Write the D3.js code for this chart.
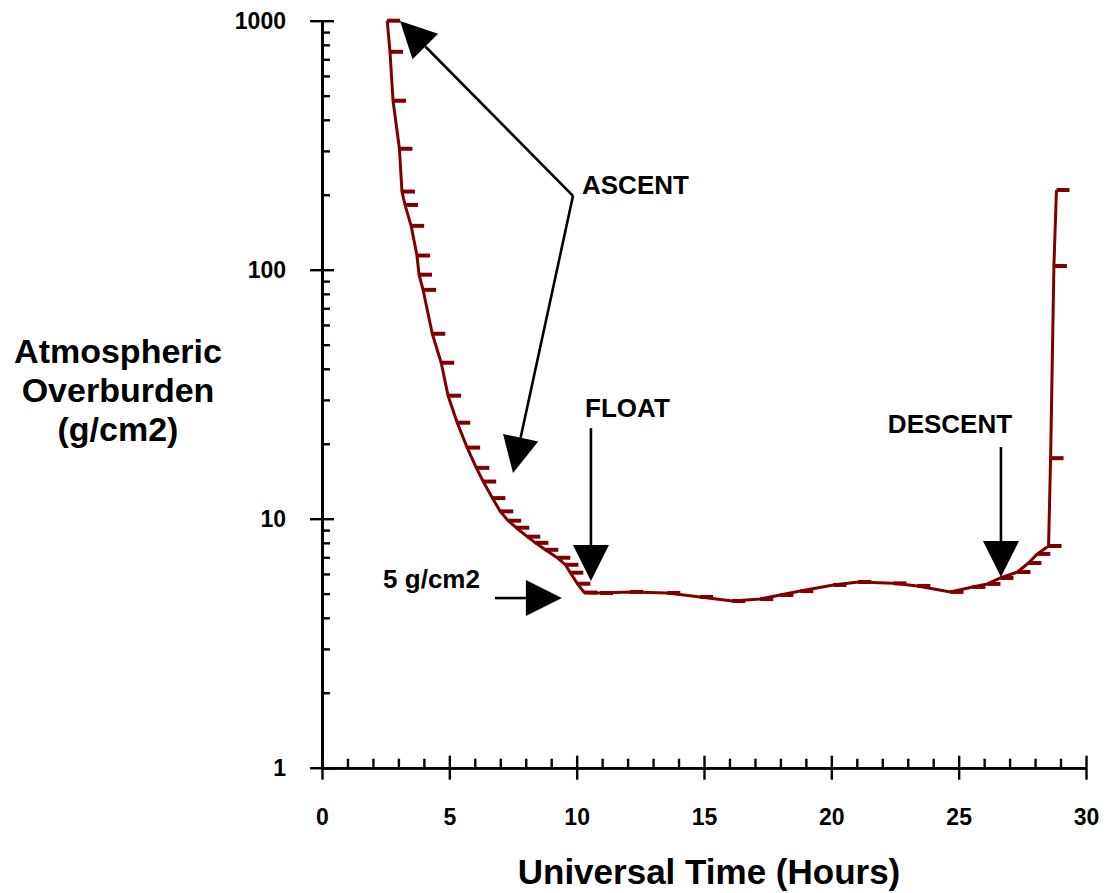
<!DOCTYPE html>
<html>
<head>
<meta charset="utf-8">
<script src="https://cdn.jsdelivr.net/npm/d3@7"></script>
<style>
  html, body { margin: 0; padding: 0; background: #fff; }
  svg { display: block; font-family: "Liberation Sans", Arial, Helvetica, sans-serif; font-weight: bold; }
</style>
</head>
<body>
<svg id="chart" width="1111" height="893"></svg>
<script>
// Flight profile: universal time (hours) vs atmospheric overburden (g/cm2)
const timeHours = [
  2.56, 2.67, 2.79, 3.04, 3.14, 3.26, 3.50, 3.73, 3.81, 3.97,
  4.33, 4.68, 4.95, 5.31, 5.70, 6.06, 6.33, 6.69, 7.00, 7.31,
  7.63, 8.06, 8.38, 8.77, 9.24, 9.56, 9.75, 10.03, 10.30,
  10.92, 12.10, 13.56, 14.85, 16.11, 17.21, 18.00, 18.78, 20.08, 21.06,
  22.44, 23.38, 24.68, 25.54, 26.13, 26.64, 27.31, 27.74, 28.09, 28.53,
  28.61, 28.74, 28.84
];
const overburden = [
  1000, 750, 477, 306, 206, 182, 150, 114, 95.5, 83,
  55.3, 42.3, 31.2, 24.3, 19.3, 16.0, 14.1, 12.1, 10.7, 9.82,
  9.2, 8.47, 8.0, 7.5, 6.97, 6.53, 6.07, 5.48, 5.05,
  5.03, 5.08, 5.03, 4.85, 4.67, 4.76, 4.94, 5.12, 5.42, 5.57,
  5.50, 5.37, 5.08, 5.32, 5.47, 5.78, 6.11, 6.64, 7.22, 7.77,
  17.5, 103.5, 209
];

// Axis ticks
const xMajorTicks = [0, 5, 10, 15, 20, 25, 30];
const xMinorTicks = d3.range(0, 31, 1).filter(d => d % 5 !== 0);
const yMajorTicks = [1, 10, 100, 1000];
const yMinorTicks = [1, 10, 100].flatMap(d => [2, 3, 4, 5, 6, 7, 8, 9].map(k => k * d));

// Annotation labels and arrows (in data units: hours, g/cm2)
const annotationLabels = [
  { text: "ASCENT", t: 10.21, v: 201 },
  { text: "FLOAT", t: 10.33, v: 25.6 },
  { text: "DESCENT", t: 22.22, v: 22.1 },
  { text: "5 g/cm2", t: 2.40, v: 5.27 }
];
const annotationArrows = [
  { from: [9.856, 198], to: [3.063, 998] },
  { from: [9.856, 198], to: [7.50, 15.26] },
  { from: [10.56, 23.1], to: [10.56, 5.62] },
  { from: [26.66, 19.41], to: [26.66, 5.83] },
  { from: [6.79, 4.80], to: [9.42, 4.80] }
];

const svg = d3.select("#chart");
const plotLeft = 322, plotRight = 1086, plotTop = 20.7, plotBottom = 767.7;

const x = d3.scaleLinear().domain([0, 30]).range([plotLeft, plotRight]);
const y = d3.scaleLog().domain([1, 1000]).range([plotBottom, plotTop]);

const red = "#800000";

// ---- Axes ----
function styleAxis(g) {
  g.select(".domain").attr("stroke", "#000").attr("stroke-width", 2.6);
  g.selectAll(".tick line").attr("stroke", "#000").attr("stroke-width", 2.4);
  g.selectAll(".tick text").attr("fill", "#000").style("font-size", "23px")
    .style("font-family", '"Liberation Sans", Arial, sans-serif').style("font-weight", "bold");
}

// y axis: labelled major ticks outward, major + minor ticks inward
svg.append("g").attr("transform", `translate(${plotLeft},0)`)
  .call(d3.axisLeft(y).tickValues(yMajorTicks).tickFormat(d3.format("d")).tickSize(12).tickPadding(24).tickSizeOuter(0))
  .call(styleAxis);
svg.append("g").attr("transform", `translate(${plotLeft},0)`)
  .call(d3.axisRight(y).tickValues(yMajorTicks).tickFormat("").tickSize(12).tickSizeOuter(0))
  .call(styleAxis);
svg.append("g").attr("transform", `translate(${plotLeft},0)`)
  .call(d3.axisRight(y).tickValues(yMinorTicks).tickFormat("").tickSize(8).tickSizeOuter(0))
  .call(styleAxis);

// x axis
svg.append("g").attr("transform", `translate(0,${plotBottom})`)
  .call(d3.axisBottom(x).tickValues(xMajorTicks).tickFormat(d3.format("d")).tickSize(12).tickPadding(29).tickSizeOuter(0))
  .call(styleAxis);
svg.append("g").attr("transform", `translate(0,${plotBottom})`)
  .call(d3.axisTop(x).tickValues(xMajorTicks).tickFormat("").tickSize(12).tickSizeOuter(0))
  .call(styleAxis);
svg.append("g").attr("transform", `translate(0,${plotBottom})`)
  .call(d3.axisTop(x).tickValues(xMinorTicks).tickFormat("").tickSize(9).tickSizeOuter(0))
  .call(styleAxis);

// ---- Axis titles ----
svg.append("text")
  .attr("x", 709).attr("y", 884)
  .attr("text-anchor", "middle")
  .style("font-size", "35px")
  .text("Universal Time (Hours)");

const yTitle = svg.append("text")
  .attr("text-anchor", "middle")
  .style("font-size", "34px");
["Atmospheric", "Overburden", "(g/cm2)"].forEach((line, i) => {
  yTitle.append("tspan").attr("x", 118).attr("y", 363 + i * 39).text(line);
});

// ---- Data line and dash markers ----
const points = timeHours.map((t, i) => ({ t, v: overburden[i] }));

svg.append("path")
  .datum(points)
  .attr("fill", "none")
  .attr("stroke", red)
  .attr("stroke-width", 3)
  .attr("stroke-linejoin", "round")
  .attr("d", d3.line().x(d => x(d.t)).y(d => y(d.v)));

svg.append("g").selectAll("line")
  .data(points)
  .join("line")
  .attr("x1", d => x(d.t))
  .attr("x2", d => x(d.t) + 13)
  .attr("y1", d => y(d.v))
  .attr("y2", d => y(d.v))
  .attr("stroke", red)
  .attr("stroke-width", 4);

// ---- Annotations ----
const headLen = 36, headHalf = 18;
const ann = svg.append("g");
annotationArrows.forEach(a => {
  const x0 = x(a.from[0]), y0 = y(a.from[1]);
  const x1 = x(a.to[0]), y1 = y(a.to[1]);
  const dx = x1 - x0, dy = y1 - y0, len = Math.hypot(dx, dy);
  const ux = dx / len, uy = dy / len;
  const bx = x1 - ux * headLen, by = y1 - uy * headLen;
  ann.append("line")
    .attr("x1", x0).attr("y1", y0).attr("x2", bx).attr("y2", by)
    .attr("stroke", "#000").attr("stroke-width", 2.6);
  ann.append("path")
    .attr("d", `M${x1},${y1}L${bx - uy * headHalf},${by + ux * headHalf}L${bx + uy * headHalf},${by - ux * headHalf}Z`)
    .attr("fill", "#000");
});

ann.selectAll("text")
  .data(annotationLabels)
  .join("text")
  .attr("x", d => x(d.t))
  .attr("y", d => y(d.v))
  .style("font-size", "26px")
  .text(d => d.text);
</script>
</body>
</html>
